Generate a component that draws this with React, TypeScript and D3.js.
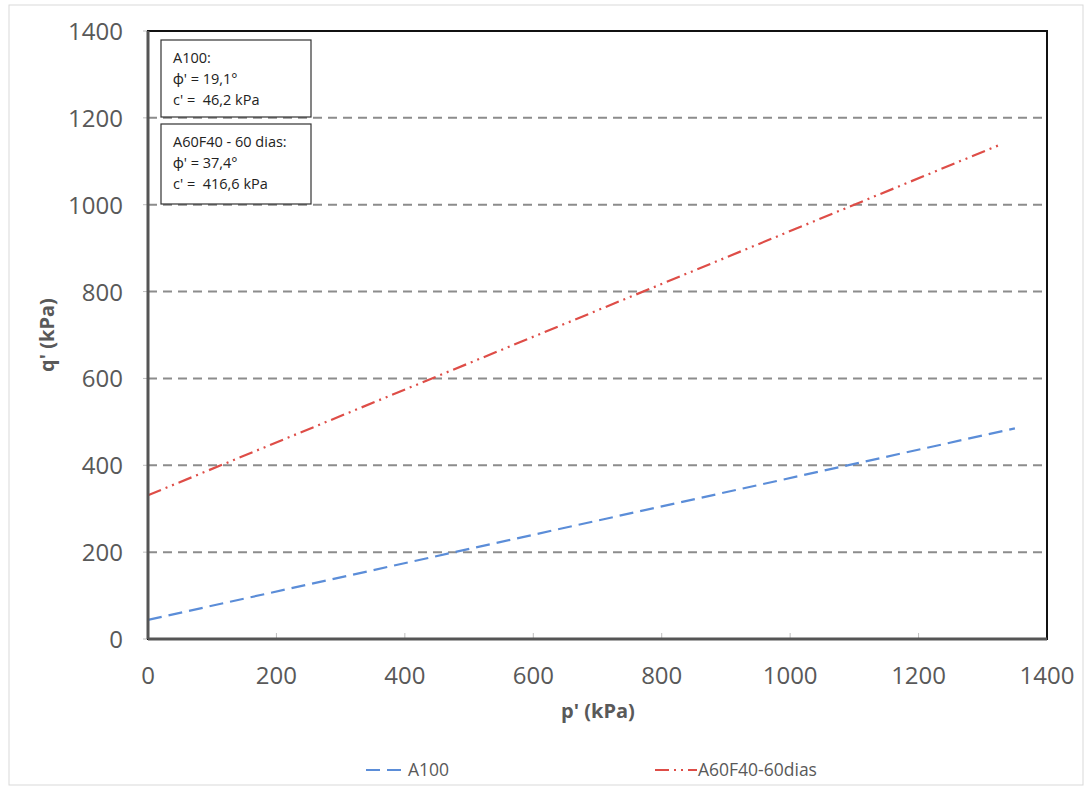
import React from "react";
import * as d3 from "d3";

const xTicks = [0, 200, 400, 600, 800, 1000, 1200, 1400];
const yTicks = [0, 200, 400, 600, 800, 1000, 1200, 1400];
const gridValues = [200, 400, 600, 800, 1000, 1200];
const seriesA100 = [
  { p: 0, q: 44 },
  { p: 1350, q: 485 },
];
const seriesA60 = [
  { p: 0, q: 331 },
  { p: 1330, q: 1140 },
];
const legendNames = ["A100", "A60F40-60dias"];
const box1 = ["A100:", "ϕ' = 19,1°", "c' =  46,2 kPa"];
const box2 = ["A60F40 - 60 dias:", "ϕ' = 37,4°", "c' =  416,6 kPa"];

const W = 1089, H = 791;
const L = 148, R = 1047, T = 31, B = 639;
const BLUE = "#5B8DD8";
const RED = "#DE4D47";
const FONT = "'Open Sans', Lato, sans-serif";

export default function App() {
  const x = d3.scaleLinear().domain([0, 1400]).range([L, R]);
  const y = d3.scaleLinear().domain([0, 1400]).range([B, T]);
  const line = d3.line<{ p: number; q: number }>().x(d => x(d.p)).y(d => y(d.q));

  return (
    <svg width={W} height={H} style={{ position: "absolute", left: 0, top: 0, background: "#fff" }} fontFamily={FONT}>
      <rect x={9} y={5} width={1074} height={780} fill="#fff" stroke="#d9d9d9" strokeWidth={1} />
      {gridValues.map(v => (
        <line key={v} x1={L} x2={R} y1={y(v)} y2={y(v)} stroke="#8c8c8c" strokeWidth={2} strokeDasharray="9,6" />
      ))}
      {xTicks.map(v => (
        <line key={"xt" + v} x1={x(v)} x2={x(v)} y1={B} y2={B - 6} stroke="#bfbfbf" strokeWidth={1} />
      ))}
      {yTicks.map(v => (
        <line key={"yt" + v} x1={L - 5} x2={L} y1={y(v)} y2={y(v)} stroke="#bfbfbf" strokeWidth={1} />
      ))}
      <path d={line(seriesA100) || ""} fill="none" stroke={BLUE} strokeWidth={2.2} strokeDasharray="14,7" />
      <path d={line(seriesA60) || ""} fill="none" stroke={RED} strokeWidth={2.2} strokeDasharray="14,5,2,5,2,5" />
      <rect x={L} y={T} width={R - L} height={B - T} fill="none" stroke="#111" strokeWidth={2} />
      <line x1={L} x2={L} y1={T} y2={B} stroke="#555" strokeWidth={3} />
      <line x1={L} x2={R} y1={B} y2={B} stroke="#555" strokeWidth={3} />
      {xTicks.map(v => (
        <text key={"xl" + v} x={x(v)} y={684} textAnchor="middle" fontSize={24} fill="#595959">{v}</text>
      ))}
      {yTicks.map(v => (
        <text key={"yl" + v} x={123} y={y(v) + 9} textAnchor="end" fontSize={24} fill="#595959">{v}</text>
      ))}
      <text x={598} y={718} textAnchor="middle" fontSize={20} fontWeight="bold" fill="#595959">p' (kPa)</text>
      <text transform={`translate(54,${(T + B) / 2}) rotate(-90)`} textAnchor="middle" fontSize={20} fontWeight="bold" fill="#595959">q' (kPa)</text>
      <rect x={161} y={40} width={150} height={77} fill="#fff" stroke="#333" strokeWidth={1.2} />
      {box1.map((t, i) => (
        <text key={"b1" + i} x={173} y={63 + i * 21} fontSize={14.5} fill="#222" style={{ whiteSpace: "pre" }}>{t}</text>
      ))}
      <rect x={161} y={124} width={150} height={80} fill="#fff" stroke="#333" strokeWidth={1.2} />
      {box2.map((t, i) => (
        <text key={"b2" + i} x={173} y={147 + i * 21} fontSize={14.5} fill="#222" style={{ whiteSpace: "pre" }}>{t}</text>
      ))}
      <line x1={366} x2={408} y1={770} y2={770} stroke={BLUE} strokeWidth={2.2} strokeDasharray="14,7" />
      <text x={408} y={776} fontSize={17.5} fill="#595959">{legendNames[0]}</text>
      <line x1={655} x2={697} y1={770} y2={770} stroke={RED} strokeWidth={2.2} strokeDasharray="14,5,2,5,2,5" />
      <text x={698} y={776} fontSize={17.5} fill="#595959">{legendNames[1]}</text>
    </svg>
  );
}
